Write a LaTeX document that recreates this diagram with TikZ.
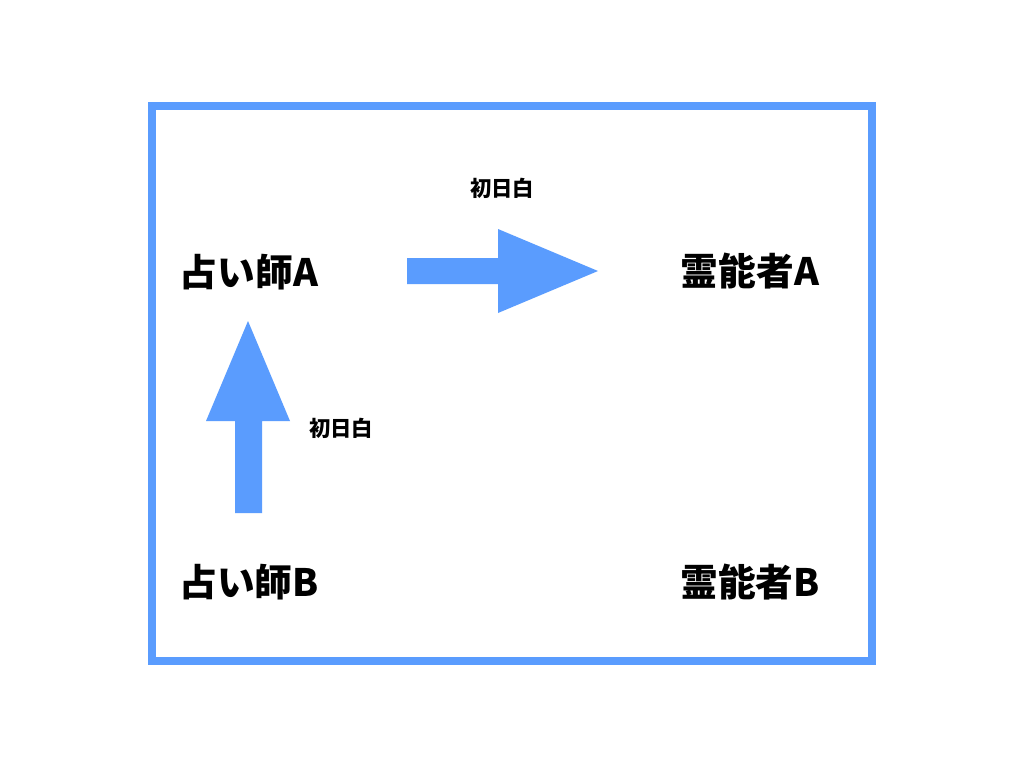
\documentclass[tikz,border=0pt]{standalone}
\usepackage{fontspec}
\setmainfont{Noto Sans CJK JP}
\definecolor{frameblue}{HTML}{5A9CFE}
\tikzset{
  big/.style={font=\fontsize{28.3pt}{31pt}\selectfont\bfseries, inner sep=0pt},
  small/.style={font=\fontsize{16pt}{18pt}\selectfont\bfseries, inner sep=0pt},
  blockarrow/.style={fill=frameblue, draw=none}
}
\begin{document}
\begin{tikzpicture}[x=0.75pt,y=-0.75pt]
\useasboundingbox (0,0) rectangle (1024,768);
\fill[white] (0,0) rectangle (1024,768);
\draw[frameblue, line width=6.2pt] (152,106) rectangle (872,661);
\node[big] (fa) at (249,272) {占い師A};
\node[big] (ma) at (750,271) {霊能者A};
\node[big] (fb) at (249,582) {占い師B};
\node[big] (mb) at (750,582) {霊能者B};
\node[small] (l1) at (502,188) {初日白};
\node[small] (l2) at (341,428) {初日白};
% right arrow
\fill[blockarrow] (407,258) -- (498,258) -- (498,229) -- (598,271) -- (498,313) -- (498,284) -- (407,284) -- cycle;
% up arrow
\fill[blockarrow] (235,513) -- (235,421) -- (206,421) -- (248,321) -- (290,421) -- (262,421) -- (262,513) -- cycle;
\end{tikzpicture}
\end{document}
